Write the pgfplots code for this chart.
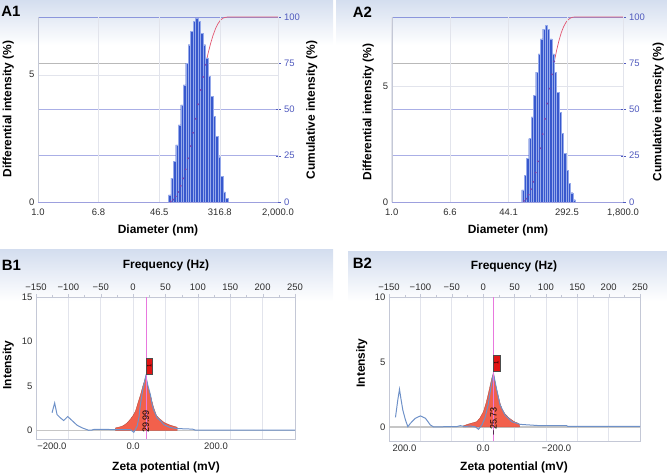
\documentclass[border=0pt]{standalone}
\usepackage{pgfplots}
\pgfplotsset{compat=1.18}
\usepackage{fontspec}
\setmainfont{Liberation Sans}
\definecolor{barblue}{RGB}{55,88,205}
\definecolor{baredge}{RGB}{150,170,235}
\definecolor{cumred}{RGB}{226,86,112}
\definecolor{gridblue}{RGB}{170,175,230}
\definecolor{topblue}{RGB}{140,150,220}
\definecolor{ticblue}{RGB}{80,90,190}
\definecolor{frame}{RGB}{196,200,214}
\definecolor{vgrid}{RGB}{226,228,236}
\definecolor{band}{RGB}{212,222,239}
\definecolor{curve}{RGB}{110,145,200}
\definecolor{peakfill}{RGB}{242,96,76}
\definecolor{boxred}{RGB}{225,20,20}
\definecolor{dotpurple}{RGB}{125,70,170}
\definecolor{zeroblue}{RGB}{120,140,215}
\definecolor{labgray}{RGB}{45,45,45}
\definecolor{magline}{RGB}{232,120,222}
\newcommand{\tickfont}{\fontsize{9.5}{11}\selectfont}
\newcommand{\labfont}{\bfseries\fontsize{12}{14}\selectfont}
\newcommand{\panfont}{\bfseries\fontsize{15}{17}\selectfont}
\pgfplotsset{
  base/.style={scale only axis, /pgf/number format/assume math mode=true,
    tick label style={font=\tickfont, text=labgray}, anchor=south west},
}
\begin{document}
\begin{tikzpicture}[x=1bp,y=1bp]
\path[use as bounding box] (0,0) rectangle (667,473);
\shade[top color=band, bottom color=white] (0,473) rectangle (333,428);
\shade[top color=band, bottom color=white] (336,473) rectangle (667,428);
\shade[top color=band, bottom color=white] (0,223) rectangle (333,172);
\shade[top color=band, bottom color=white] (348,221) rectangle (667,172);

% ================= A1 =================
\begin{axis}[base, at={(38bp,271bp)}, width=240bp, height=185bp,
  xmode=log, xmin=1, xmax=2000, ymin=0, ymax=100,
  axis y line*=right, axis x line*=top,
  x axis line style={draw=topblue, line width=0.8pt},
  y axis line style={draw=frame},
  xtick=\empty, ytick={0,25,50,75,100},
  yticklabel style={text=ticblue},
  ytick style={draw=ticblue}, tick align=center, major tick length=5bp,
  ymajorgrids, grid style={gridblue, line width=0.6pt}]
\addplot[gray!55, line width=1.4pt] coordinates {(1,75) (2000,75)};
\addplot[cumred, line width=0.7pt] coordinates {(186.6,67.6)(201.8,74.2)(218.4,80.3)(236.3,85.6)(255.6,90.1)(276.6,93.7)(299.2,96.4)(323.7,98.3)(350.3,99.4)(379.0,99.8)(410.1,100)(2000,100)};
\end{axis}
\begin{axis}[base, at={(38bp,271bp)}, width=240bp, height=185bp,
  xmode=log, xmin=1, xmax=2000, ymin=0, ymax=7.27,
  axis y line*=left, axis x line*=bottom,
  x axis line style={draw=frame!80!blue, line width=0.6pt},
  y axis line style={draw=frame},
  xtick={1,6.8,46.5,316.8,2000}, xticklabels={1.0,6.8,46.5,316.8,{2,000.0}},
  xticklabel style={yshift=-3bp},
  ytick={0,5}, major tick length=0pt,
  xmajorgrids, ymajorgrids, grid style={vgrid, line width=0.5pt}]
\addplot[ybar interval=0.88, fill=barblue, draw=baredge, line width=0.35pt] coordinates {(61.9,0.28)(67.0,0.94)(72.5,1.59)(78.4,2.24)(84.9,3.03)(91.8,3.82)(99.4,4.6)(107.5,5.46)(116.3,6.18)(125.8,6.7)(136.1,7.1)(147.3,7.22)(159.4,7.1)(172.5,6.64)(186.6,6.18)(201.8,5.66)(218.4,4.93)(236.3,4.15)(255.6,3.36)(276.6,2.57)(299.2,1.78)(323.7,1.0)(350.3,0.4)(379.0,0.15)(410.1,0)};
\end{axis}
\begin{axis}[base, at={(38bp,271bp)}, width=240bp, height=185bp,
  xmode=log, xmin=1, xmax=2000, ymin=0, ymax=100, hide axis]
\addplot[only marks, mark=*, mark size=0.7bp, dotpurple] coordinates {(67.0,0.3)(72.5,1.3)(78.4,3.0)(84.9,5.4)(91.8,8.7)(99.4,12.8)(107.5,17.7)(116.3,23.6)(125.8,30.2)(136.1,37.4)(147.3,45.0)(159.4,52.8)(172.5,60.5)(186.6,67.6)(201.8,74.2)};
\addplot[zeroblue, dotted, line width=0.8pt] coordinates {(410.1,0)(2000,0)};
\end{axis}

% ================= A2 =================
\begin{axis}[base, at={(391.7bp,271bp)}, width=231.3bp, height=185bp,
  xmode=log, xmin=1, xmax=1800, ymin=0, ymax=100,
  axis y line*=right, axis x line*=top,
  x axis line style={draw=topblue, line width=0.8pt},
  y axis line style={draw=frame},
  xtick=\empty, ytick={0,25,50,75,100},
  yticklabel style={text=ticblue},
  ytick style={draw=ticblue}, tick align=center, major tick length=5bp,
  ymajorgrids, grid style={gridblue, line width=0.6pt}]
\addplot[gray!55, line width=1.4pt] coordinates {(1,75) (1800,75)};
\addplot[cumred, line width=0.7pt] coordinates {(167.1,61.3)(180.3,69.0)(194.4,76.0)(209.7,82.1)(226.1,87.3)(243.8,91.6)(263.0,94.8)(283.6,97.1)(305.9,98.6)(329.8,99.5)(355.6,99.9)(383.6,100)(1800,100)};
\end{axis}
\begin{axis}[base, at={(391.7bp,271bp)}, width=231.3bp, height=185bp,
  xmode=log, xmin=1, xmax=1800, ymin=0, ymax=8,
  axis y line*=left, axis x line*=bottom,
  x axis line style={draw=frame!80!blue, line width=0.6pt},
  y axis line style={draw=frame},
  xtick={1,6.6,44.1,292.5,1800}, xticklabels={1.0,6.6,44.1,292.5,{1,800.0}},
  xticklabel style={yshift=-3bp},
  ytick={0,5}, major tick length=0pt,
  xmajorgrids, ymajorgrids, grid style={vgrid, line width=0.5pt}]
\addplot[ybar interval=0.88, fill=barblue, draw=baredge, line width=0.35pt] coordinates {(67.5,0.52)(72.8,1.16)(78.5,1.88)(84.7,2.74)(91.3,3.68)(98.5,4.61)(106.2,5.62)(114.6,6.41)(123.6,7.05)(133.3,7.48)(143.7,7.63)(155.0,7.48)(167.1,7.05)(180.3,6.41)(194.4,5.62)(209.7,4.75)(226.1,3.89)(243.8,2.96)(263.0,2.1)(283.6,1.38)(305.9,0.8)(329.8,0.4)(355.6,0.1)(383.6,0)};
\end{axis}
\begin{axis}[base, at={(391.7bp,271bp)}, width=231.3bp, height=185bp,
  xmode=log, xmin=1, xmax=1800, ymin=0, ymax=100, hide axis]
\addplot[only marks, mark=*, mark size=0.7bp, dotpurple] coordinates {(72.8,0.6)(78.5,1.8)(84.7,3.9)(91.3,6.9)(98.5,10.9)(106.2,15.9)(114.6,22.0)(123.6,29.0)(133.3,36.7)(143.7,44.9)(155.0,53.2)(167.1,61.3)(180.3,69.0)(194.4,76.0)};
\addplot[zeroblue, dotted, line width=0.8pt] coordinates {(383.6,0)(1800,0)};
\end{axis}

% ================= B1 =================
\begin{axis}[base, at={(36bp,34bp)}, width=259bp, height=142bp,
  xmin=-150, xmax=250, ymin=0, ymax=1,
  axis x line*=top, axis y line=none,
  x axis line style={draw=frame},
  xtick={-150,-100,...,250},
  xticklabels={−150,−100,−50,0,50,100,150,200,250},
  minor x tick num=1, tick align=outside, major tick length=3bp, minor tick length=2bp,
  tick style={draw=frame},
  xmajorgrids, grid style={vgrid, line width=0.6pt}]
\end{axis}
\begin{axis}[base, at={(36bp,34bp)}, width=259bp, height=142bp,
  xmin=-150, xmax=250, ymin=-0.95, ymax=15,
  axis line style={draw=frame, line width=0.6pt},
  xtick={-125.5,0,128}, xticklabels={−200.0,0.0,200.0}, xtick pos=bottom,
  ytick={0,5,10,15}, ytick pos=left, major tick length=0pt,
  extra y ticks={0}, extra y tick labels={},
  extra y tick style={grid=major, major grid style={gray!45, line width=1.1pt}}]
\addplot[fill=peakfill, draw=peakfill!70!black, line width=0.3pt] coordinates {(-27,0)(-27,0.3)(-20,0.42)(-15,0.55)(-9.3,0.86)(-4,1.3)(0,1.7)(3.6,2.17)(7,3.0)(11.3,4.0)(15,5.0)(18,5.7)(19.5,6.1)(21.5,5.5)(23,4.9)(26.7,4.0)(29.4,3.2)(31.8,2.55)(36,1.7)(42.2,1.24)(48,0.9)(55,0.67)(62,0.5)(68,0.37)(68,0)} -- cycle;
\addplot[curve, line width=1pt] coordinates {(-125.2,2.0)(-121.2,3.1)(-117.5,1.8)(-112.4,1.43)(-107.2,1.12)(-101,1.57)(-94.3,1.12)(-86.6,0.6)(-78.8,0.3)(-68.6,0.03)(-64,0.05)(-60.9,0.12)(-40.2,0.12)(-19.6,0.1)(-4.2,0.1)(1,-0.2)(4,0.2)(6.2,0.5)(9,1.5)(11.3,3.0)(15,4.6)(18,5.6)(19.5,6.1)(23,5.0)(26.7,4.0)(29.4,2.9)(31.8,2.3)(37.1,1.43)(42.2,1.1)(47.3,0.67)(55,0.4)(60.3,0.3)(68,0.22)(85,0.18)(92,0.15)(96,0.05)(150,0.05)(250,0.05)};
\addplot[magline, line width=0.5pt, mark=none] coordinates {(19.5,-0.95)(19.5,15)};
\node[draw=black!70, fill=boxred, rotate=90, minimum width=16.5bp, minimum height=6bp, inner sep=0pt, font=\fontsize{6}{6}\selectfont] at (axis cs:24.9,7.23) {1};
\node[rotate=90, font=\fontsize{9}{9}\selectfont, inner sep=0pt] at (axis cs:19.5,1.0) {29.99};
\end{axis}

% ================= B2 =================
\begin{axis}[base, at={(389bp,32bp)}, width=251bp, height=144bp,
  xmin=-150, xmax=250, ymin=0, ymax=1,
  axis x line*=top, axis y line=none,
  x axis line style={draw=frame},
  xtick={-150,-100,...,250},
  xticklabels={−150,−100,−50,0,50,100,150,200,250},
  minor x tick num=1, tick align=outside, major tick length=3bp, minor tick length=2bp,
  tick style={draw=frame},
  xmajorgrids, grid style={vgrid, line width=0.6pt}]
\end{axis}
\begin{axis}[base, at={(389bp,32bp)}, width=251bp, height=144bp,
  xmin=-150, xmax=250, ymin=-1.08, ymax=10,
  axis line style={draw=frame, line width=0.6pt},
  xtick={-125.4,0,117}, xticklabels={200.0,0.0,−200.0}, xtick pos=bottom,
  ytick={0,5,10}, ytick pos=left, major tick length=0pt,
  extra y ticks={0}, extra y tick labels={},
  extra y tick style={grid=major, major grid style={gray!45, line width=1.1pt}}]
\addplot[fill=peakfill, draw=peakfill!70!black, line width=0.3pt] coordinates {(-31.7,0)(-31.7,0.08)(-25,0.2)(-18,0.3)(-10,0.41)(-5,0.7)(0.5,1.18)(5,1.9)(8.4,2.6)(13.8,3.75)(16.4,4.13)(18.5,3.6)(20.6,3.1)(24,2.4)(27,1.82)(30,1.4)(34.9,1.0)(40,0.75)(45.5,0.54)(50,0.4)(56,0.28)(58,0.2)(58,0)} -- cycle;
\addplot[curve, line width=1pt] coordinates {(-139.7,0.74)(-136,2.08)(-133.3,2.9)(-130.7,2.08)(-128,1.3)(-123.8,0.54)(-120,0.02)(-115.9,0.28)(-108,0.67)(-100,0.85)(-92,0.67)(-84,0.15)(-78.9,0)(-60,0.02)(-41.8,0.03)(-36.5,0.1)(-28.6,0.03)(-20.6,0.08)(-12,0.0)(-7.4,-0.18)(-2,0.15)(3,0.7)(8,1.7)(12,2.9)(16.4,4.13)(21.7,2.85)(27,1.69)(34.9,0.92)(45.5,0.41)(58.7,0.2)(74.6,0.15)(90.5,0.1)(133,0.1)(135,0.04)(250,0.04)};
\addplot[magline, line width=0.7pt, mark=none] coordinates {(16.9,-1.08)(16.9,10)};
\node[draw=black!70, fill=boxred, rotate=90, minimum width=16.5bp, minimum height=7bp, inner sep=0pt, font=\fontsize{6}{6}\selectfont] at (axis cs:21.1,4.9) {1};
\node[rotate=90, font=\fontsize{9}{9}\selectfont, inner sep=0pt] at (axis cs:16.4,0.43) {−25.73};
\end{axis}

% ================= labels =================
\node[font=\panfont] at (11,462) {A1};
\node[font=\panfont] at (362.5,461) {A2};
\node[font=\panfont] at (11.5,208) {B1};
\node[font=\panfont] at (362.5,210) {B2};
\node[font=\labfont] at (158,243) {Diameter (nm)};
\node[font=\labfont] at (508,243) {Diameter (nm)};
\node[font=\labfont, rotate=90] at (8.3,364) {Differential intensity (\%)};
\node[font=\labfont, rotate=90] at (368.3,361) {Differential intensity (\%)};
\node[font=\labfont, rotate=90] at (311.7,363) {Cumulative intensity (\%)};
\node[font=\labfont, rotate=90] at (658.3,361) {Cumulative intensity (\%)};
\node[font=\labfont] at (166,208) {Frequency (Hz)};
\node[font=\labfont] at (514,207) {Frequency (Hz)};
\node[font=\labfont] at (166,6) {Zeta potential (mV)};
\node[font=\labfont] at (514,6) {Zeta potential (mV)};
\node[font=\labfont, rotate=90] at (8.3,108) {Intensity};
\node[font=\labfont, rotate=90] at (361.7,110) {Intensity};
\end{tikzpicture}
\end{document}
